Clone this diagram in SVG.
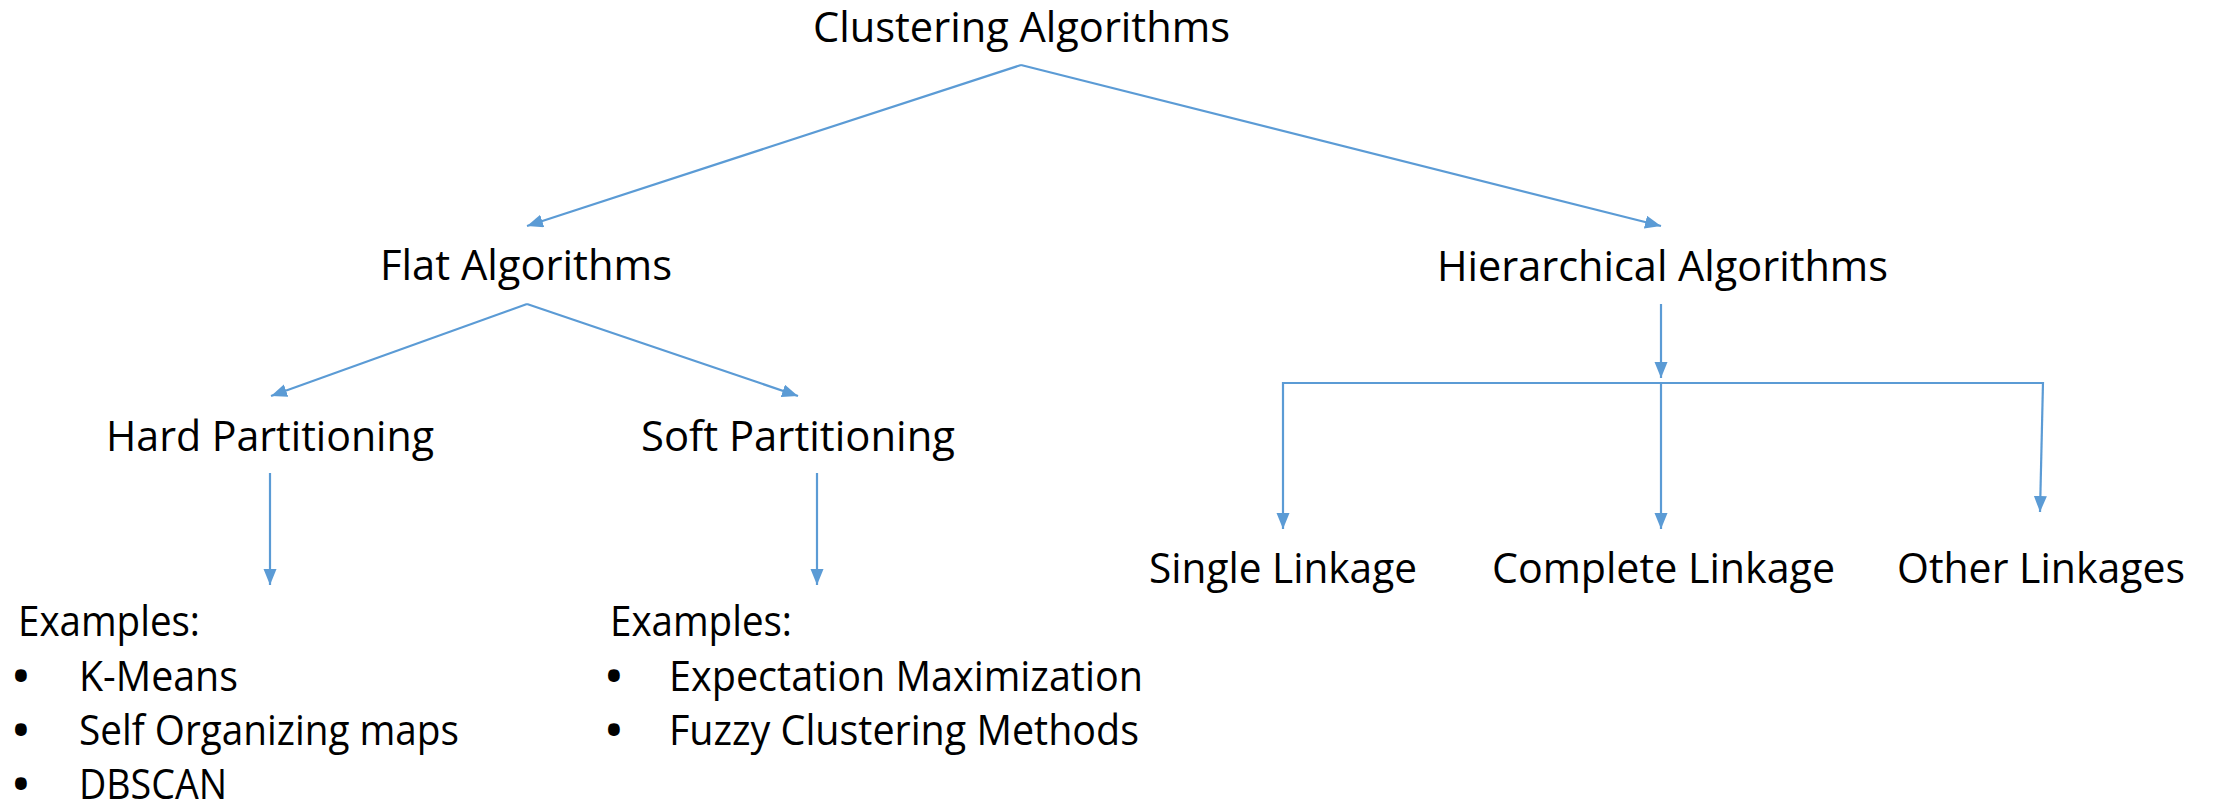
<svg xmlns="http://www.w3.org/2000/svg" width="2218" height="807" viewBox="0 0 2218 807">
<style>
.t{font-family:"Open Sans","Liberation Sans",sans-serif;font-size:42px;fill:#000}
.b{font-family:"Open Sans","Liberation Sans",sans-serif;font-size:42px;font-weight:bold;fill:#000}
.c{stroke:#5B9BD5;stroke-width:2.2;fill:none}
.a{marker-end:url(#ah)}
</style>
<defs>
<marker id="ah" markerUnits="userSpaceOnUse" markerWidth="17" markerHeight="14" refX="16" refY="6.5" orient="auto">
<path d="M0,0 L16,6.5 L0,13 z" fill="#5B9BD5"/>
</marker>
</defs>
<rect width="2218" height="807" fill="#fff"/>
<g id="connectors">
<line class="c a" x1="1021" y1="65" x2="527" y2="226"/>
<line class="c a" x1="1021" y1="65" x2="1661" y2="226"/>
<line class="c a" x1="527" y1="304" x2="271" y2="396"/>
<line class="c a" x1="527" y1="304" x2="798" y2="396"/>
<line class="c a" x1="270" y1="473" x2="270" y2="585"/>
<line class="c a" x1="817" y1="473" x2="817" y2="585"/>
<line class="c a" x1="1661" y1="304" x2="1661" y2="378"/>
<line class="c" x1="1283" y1="383" x2="2044" y2="383"/>
<line class="c a" x1="1283" y1="382" x2="1283" y2="529"/>
<line class="c a" x1="1661" y1="383" x2="1661" y2="529"/>
<line class="c a" x1="2043" y1="382" x2="2040" y2="512"/>
</g>
<g id="clustering"><text class="t" x="813" y="42" textLength="417" lengthAdjust="spacingAndGlyphs">Clustering Algorithms</text></g>
<g id="flat"><text class="t" x="380" y="280" textLength="292" lengthAdjust="spacingAndGlyphs">Flat Algorithms</text></g>
<g id="hierarchical"><text class="t" x="1437" y="281" textLength="451" lengthAdjust="spacingAndGlyphs">Hierarchical Algorithms</text></g>
<g id="hard"><text class="t" x="106" y="451" textLength="328" lengthAdjust="spacingAndGlyphs">Hard Partitioning</text></g>
<g id="soft"><text class="t" x="641" y="451" textLength="314" lengthAdjust="spacingAndGlyphs">Soft Partitioning</text></g>
<g id="single"><text class="t" x="1149" y="583" textLength="268" lengthAdjust="spacingAndGlyphs">Single Linkage</text></g>
<g id="complete"><text class="t" x="1492" y="583" textLength="343" lengthAdjust="spacingAndGlyphs">Complete Linkage</text></g>
<g id="other"><text class="t" x="1897" y="583" textLength="288" lengthAdjust="spacingAndGlyphs">Other Linkages</text></g>
<g id="hard-examples">
<text class="t" x="18" y="636" textLength="182" lengthAdjust="spacingAndGlyphs">Examples:</text>
<text class="b" x="13" y="691">•</text>
<text class="t" x="79" y="691" textLength="159" lengthAdjust="spacingAndGlyphs">K-Means</text>
<text class="b" x="13" y="745">•</text>
<text class="t" x="79" y="745" textLength="380" lengthAdjust="spacingAndGlyphs">Self Organizing maps</text>
<text class="b" x="13" y="799">•</text>
<text class="t" x="79" y="799" textLength="148" lengthAdjust="spacingAndGlyphs">DBSCAN</text>
</g>
<g id="soft-examples">
<text class="t" x="610" y="636" textLength="182" lengthAdjust="spacingAndGlyphs">Examples:</text>
<text class="b" x="606" y="691">•</text>
<text class="t" x="669" y="691" textLength="474" lengthAdjust="spacingAndGlyphs">Expectation Maximization</text>
<text class="b" x="606" y="745">•</text>
<text class="t" x="669" y="745" textLength="470" lengthAdjust="spacingAndGlyphs">Fuzzy Clustering Methods</text>
</g>
</svg>
